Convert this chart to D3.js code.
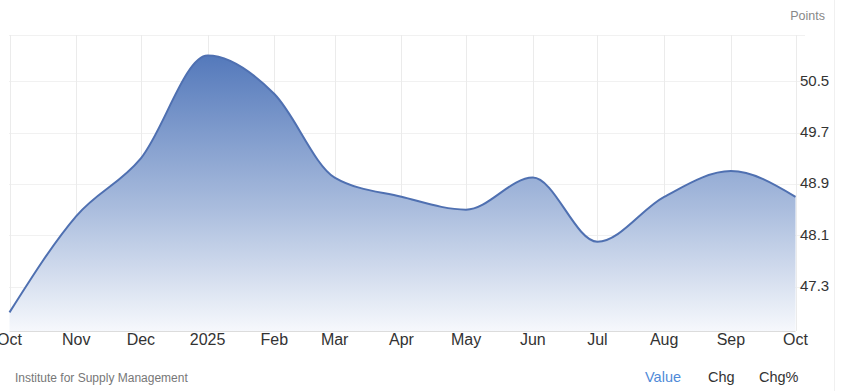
<!DOCTYPE html>
<html>
<head>
<meta charset="utf-8">
<script src="https://cdn.jsdelivr.net/npm/d3@7"></script>
<style>
  html, body { margin: 0; padding: 0; background: #fff; }
  svg { display: block; font-family: "Liberation Sans", Arial, sans-serif; }
</style>
</head>
<body>
<div id="chart"></div>
<script>
'use strict';

var months = ['2024-10-01', '2024-11-01', '2024-12-01', '2025-01-01', '2025-02-01', '2025-03-01',
  '2025-04-01', '2025-05-01', '2025-06-01', '2025-07-01', '2025-08-01', '2025-09-01', '2025-10-01'];
var values = [46.9, 48.4, 49.3, 50.9, 50.3, 49.0, 48.7, 48.5, 49.0, 48.0, 48.7, 49.1, 48.7];
var yTicks = [47.3, 48.1, 48.9, 49.7, 50.5];
var unitLabel = 'Points';
var sourceLabel = 'Institute for Supply Management';
var tabs = ['Value', 'Chg', 'Chg%'];

var W = 843, H = 391;
var parse = d3.timeParse('%Y-%m-%d');
var data = months.map(function(m, i) { return { date: parse(m), value: values[i] }; });

var x = d3.scaleTime()
  .domain([data[0].date, data[data.length - 1].date])
  .range([9.5, 795.5]);
var y = d3.scaleLinear()
  .domain([46.61, 51.22])
  .range([331, 35]);

var $svg = d3.select('#chart').append('svg')
  .attr('width', W)
  .attr('height', H);

// gradient for the area
var grad = $svg.append('defs').append('linearGradient')
  .attr('id', 'areaFill')
  .attr('gradientUnits', 'userSpaceOnUse')
  .attr('x1', 0).attr('x2', 0)
  .attr('y1', y(50.9)).attr('y2', y.range()[0]);
grad.append('stop').attr('offset', '0%').attr('stop-color', '#5479bb');
grad.append('stop').attr('offset', '55%').attr('stop-color', '#a9bcdd');
grad.append('stop').attr('offset', '100%').attr('stop-color', '#f6f8fc');

// horizontal grid (dotted)
$svg.append('g').selectAll('line')
  .data(yTicks.concat([y.domain()[1]]))
  .enter().append('line')
  .attr('x1', 9.5).attr('x2', 805)
  .attr('y1', function(d) { return Math.round(y(d)) + 0.5; })
  .attr('y2', function(d) { return Math.round(y(d)) + 0.5; })
  .attr('stroke', '#e3e3e3')
  .attr('stroke-dasharray', '1,1');

// vertical grid
var monthTicks = data.map(function(d) { return d.date; });
$svg.append('g').selectAll('line')
  .data(monthTicks)
  .enter().append('line')
  .attr('x1', function(d) { return Math.round(x(d)) + 0.5; })
  .attr('x2', function(d) { return Math.round(x(d)) + 0.5; })
  .attr('y1', 35).attr('y2', 331)
  .attr('stroke', '#ebebeb');

// area + line
var area = d3.area()
  .curve(d3.curveMonotoneX)
  .x(function(d) { return x(d.date); })
  .y0(y.range()[0])
  .y1(function(d) { return y(d.value); });
var line = d3.line()
  .curve(d3.curveMonotoneX)
  .x(function(d) { return x(d.date); })
  .y(function(d) { return y(d.value); });

$svg.append('path').datum(data)
  .attr('d', area)
  .attr('fill', 'url(#areaFill)');
$svg.append('path').datum(data)
  .attr('d', line)
  .attr('fill', 'none')
  .attr('stroke', '#4f70b1')
  .attr('stroke-width', 2);

// bottom axis line
$svg.append('line')
  .attr('x1', 9.5).attr('x2', 795.5)
  .attr('y1', 331.5).attr('y2', 331.5)
  .attr('stroke', '#dcdcdc');

// x axis labels
var fmtMonth = d3.timeFormat('%b');
var fmtYear = d3.timeFormat('%Y');
$svg.append('g').selectAll('text')
  .data(monthTicks)
  .enter().append('text')
  .attr('x', function(d) { return x(d); })
  .attr('y', 345)
  .attr('text-anchor', 'middle')
  .attr('font-size', 16)
  .attr('fill', '#333')
  .text(function(d) { return d.getMonth() === 0 ? fmtYear(d) : fmtMonth(d); });

// y axis labels
$svg.append('g').selectAll('text')
  .data(yTicks)
  .enter().append('text')
  .attr('x', 800)
  .attr('y', function(d) { return y(d) + 4.5; })
  .attr('font-size', 15)
  .attr('fill', '#333')
  .text(function(d) { return d3.format('.1f')(d); });

$svg.append('text')
  .attr('x', 825).attr('y', 20)
  .attr('text-anchor', 'end')
  .attr('font-size', 12.5)
  .attr('fill', '#888')
  .text(unitLabel);

$svg.append('text')
  .attr('x', 15).attr('y', 382)
  .attr('font-size', 12)
  .attr('fill', '#777')
  .text(sourceLabel);

var tabX = [645, 708, 759];
$svg.append('g').selectAll('text')
  .data(tabs)
  .enter().append('text')
  .attr('x', function(d, i) { return tabX[i]; })
  .attr('y', 382)
  .attr('font-size', 14.5)
  .attr('fill', function(d, i) { return i === 0 ? '#4f8ad8' : '#333'; })
  .text(function(d) { return d; });

// right border of the panel
$svg.append('line')
  .attr('x1', 834.5).attr('x2', 834.5)
  .attr('y1', 0).attr('y2', H)
  .attr('stroke', '#f0f0f0');
</script>
</body>
</html>
